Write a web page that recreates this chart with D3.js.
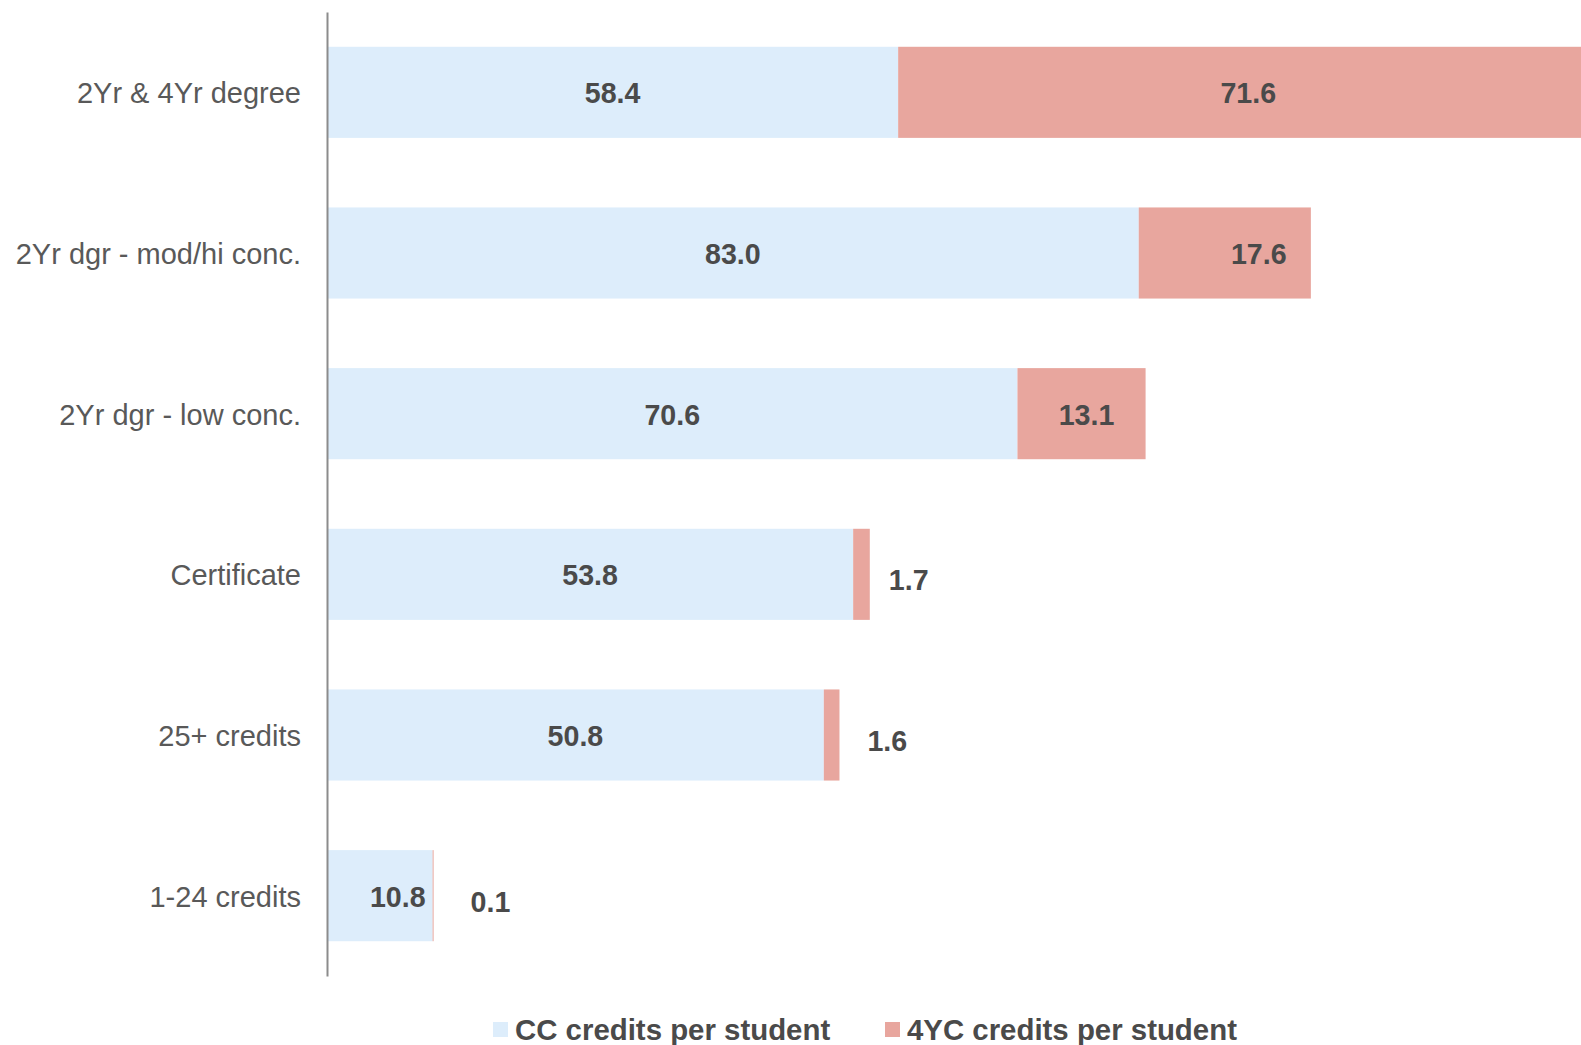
<!DOCTYPE html>
<html>
<head>
<meta charset="utf-8">
<script src="https://cdn.jsdelivr.net/npm/d3@7"></script>
<style>
  html, body { margin: 0; padding: 0; background: #fff; }
  svg { display: block; }
</style>
</head>
<body>
<div id="chart"></div>
<script>
// ---- data ----
const categories = ["2Yr & 4Yr degree", "2Yr dgr - mod/hi conc.", "2Yr dgr - low conc.", "Certificate", "25+ credits", "1-24 credits"];
const ccCredits = [58.4, 83.0, 70.6, 53.8, 50.8, 10.8];
const fourYCCredits = [71.6, 17.6, 13.1, 1.7, 1.6, 0.1];
const seriesNames = ["CC credits per student", "4YC credits per student"];

// ---- layout / style ----
const W = 1581, H = 1045;
const x0 = 327;
const pxPerUnit = 9.78;
const colors = ["#DDEDFB", "#E8A69E"];
const textDark = "#4A4A4A";
const textCat = "#595959";
const fontFam = "'Liberation Sans', Arial, Helvetica, sans-serif";
// manual label nudges (px), as placed in the original
const ccNudge = [0, 0, 0, 0, 0, 18];
const fyNudge = [0, 34, 5, 0, 0, 0];
const outsideGap = [0, 0, 0, 19, 28, 37];

const svg = d3.select("#chart").append("svg")
  .attr("width", W).attr("height", H);

const x = d3.scaleLinear().domain([0, 140]).range([x0, x0 + 140 * pxPerUnit]);
const y = d3.scaleBand().domain(categories).range([12, 976])
  .paddingInner(0.433).paddingOuter(0.2165);

const rows = categories.map((c, i) => ({ c, i, cc: ccCredits[i], fy: fourYCCredits[i] }));

// CC bars
svg.append("g").selectAll("rect").data(rows).join("rect")
  .attr("x", d => x(0))
  .attr("y", d => y(d.c))
  .attr("width", d => x(d.cc) - x(0))
  .attr("height", y.bandwidth())
  .attr("fill", colors[0]);

// 4YC bars
svg.append("g").selectAll("rect").data(rows).join("rect")
  .attr("x", d => x(d.cc))
  .attr("y", d => y(d.c))
  .attr("width", d => x(d.cc + d.fy) - x(d.cc))
  .attr("height", y.bandwidth())
  .attr("fill", colors[1]);

// axis
const axis = d3.axisLeft(y).tickSize(0).tickSizeOuter(0).tickPadding(26);
const gAx = svg.append("g").attr("transform", `translate(${x0},0)`).call(axis);
gAx.select(".domain").attr("stroke", "#8C8C8C").attr("stroke-width", 2);
gAx.selectAll(".tick text")
  .attr("font-family", fontFam).attr("font-size", 29).attr("fill", textCat)
  .attr("dy", "0.38em");

// CC labels
svg.append("g").selectAll("text").data(rows).join("text")
  .attr("x", d => (x(0) + x(d.cc)) / 2 + ccNudge[d.i])
  .attr("y", d => y(d.c) + y.bandwidth() / 2)
  .attr("dy", "0.38em")
  .attr("text-anchor", "middle")
  .attr("font-family", fontFam).attr("font-size", 28.6).attr("font-weight", "bold")
  .attr("fill", textDark)
  .text(d => d.cc.toFixed(1));

// 4YC labels
svg.append("g").selectAll("text").data(rows).join("text")
  .attr("x", d => outsideGap[d.i] ? x(d.cc + d.fy) + outsideGap[d.i]
                                   : (x(d.cc) + x(d.cc + d.fy)) / 2 + fyNudge[d.i])
  .attr("y", d => y(d.c) + y.bandwidth() / 2 + (outsideGap[d.i] ? 5 : 0))
  .attr("dy", "0.38em")
  .attr("text-anchor", d => outsideGap[d.i] ? "start" : "middle")
  .attr("font-family", fontFam).attr("font-size", 28.6).attr("font-weight", "bold")
  .attr("fill", textDark)
  .text(d => d.fy.toFixed(1));

// legend
const legX = [493, 885];
const lg = svg.append("g").selectAll("g").data(seriesNames).join("g")
  .attr("transform", (d, i) => `translate(${legX[i]},1022)`);
lg.append("rect").attr("width", 15).attr("height", 15).attr("fill", (d, i) => colors[i]);
lg.append("text").attr("x", 22).attr("y", 18)
  .attr("font-family", fontFam).attr("font-size", 29.4).attr("font-weight", "bold")
  .attr("fill", textDark)
  .text(d => d);
</script>
</body>
</html>
